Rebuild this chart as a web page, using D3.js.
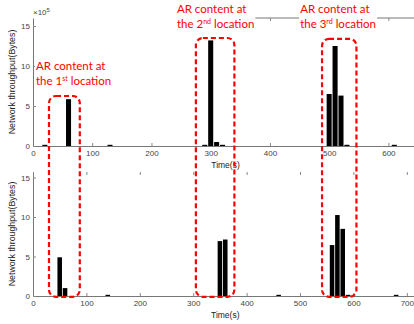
<!DOCTYPE html>
<html>
<head>
<meta charset="utf-8">
<script src="https://cdn.jsdelivr.net/npm/d3@7"></script>
<style>
  body { margin: 0; background: #fff; }
  .tick text { font-family: "Liberation Sans", Arial, sans-serif; font-size: 8px; fill: #444; }
  .tick line { stroke: #888; }
  .domain { stroke: #777; }
</style>
</head>
<body>
<svg id="svg-chart"></svg>
<script>
const width = 414;
const height = 324;

// top run: time (s) and throughput (x10^5 bytes)
const topTime = [20, 60, 130, 290, 300, 310, 320, 500, 510, 520, 530, 610];
const topVal = [0.15, 5.85, 0.15, 0.15, 13.2, 0.5, 0.15, 6.5, 12.5, 6.3, 0.15, 0.15];
// bottom run
const botTime = [50, 60, 140, 350, 360, 460, 560, 570, 580, 590, 680];
const botVal = [4.9, 1.0, 0.15, 6.95, 7.15, 0.15, 6.45, 10.25, 8.5, 0.15, 0.15];

const topXTicks = [0, 100, 200, 300, 400, 500, 600];
const botXTicks = [0, 100, 200, 300, 400, 500, 600, 700];
const yTicks = [0, 5, 10, 15];

// annotation boxes, in top-plot units
const boxStart = [27, 275, 488];
const boxEnd = [79, 340, 546];
const boxTop = [6.25, 13.5, 13.4];
const labelX = [5, 243, 451];
const labelY = [9.5, 16.6, 16.6];
const ordinal = ["1", "2", "3"];
const suffix = ["st", "nd", "rd"];

const svg = d3.select("#svg-chart").attr("width", width).attr("height", height);

const xT = d3.scaleLinear().domain([0, 650]).range([33, 418]);
const yT = d3.scaleLinear().domain([0, 16]).range([146, 18]);
const xB = d3.scaleLinear().domain([0, 720]).range([33, 417.5]);
const yB = d3.scaleLinear().domain([0, 15.7]).range([296, 172]);

function drawPanel(x, y, xticks, times, vals) {
  const g = svg.append("g");
  g.append("g")
    .attr("transform", "translate(0," + y(0) + ")")
    .call(d3.axisBottom(x).tickValues(xticks).tickSizeInner(-3).tickSizeOuter(0).tickPadding(4));
  g.append("g")
    .attr("transform", "translate(" + x(0) + ",0)")
    .call(d3.axisLeft(y).tickValues(yTicks).tickSizeInner(-3).tickSizeOuter(0).tickPadding(3));

  const bw = (x(10) - x(0)) * 0.85;
  g.selectAll("rect.bar")
    .data(times)
    .join("rect")
    .attr("class", "bar")
    .attr("x", function (d) { return x(d) - bw / 2; })
    .attr("width", bw)
    .attr("y", function (d, i) { return y(vals[i]); })
    .attr("height", function (d, i) { return y(0) - y(vals[i]); })
    .attr("fill", "#000");

  g.append("text")
    .attr("x", (x.range()[0] + x.range()[1]) / 2)
    .attr("y", y(0) + 22)
    .attr("text-anchor", "middle")
    .attr("font-family", "Liberation Sans, Arial, sans-serif")
    .attr("font-size", 8.5)
    .attr("fill", "#222")
    .text("Time(s)");

  g.append("text")
    .attr("transform", "translate(15," + (y.range()[0] + y.range()[1]) / 2 + ") rotate(-90)")
    .attr("text-anchor", "middle")
    .attr("font-family", "Liberation Sans, Arial, sans-serif")
    .attr("font-size", 8.8)
    .attr("fill", "#222")
    .text("Network throughput(Bytes)");
  return g;
}

drawPanel(xT, yT, topXTicks, topTime, topVal);
drawPanel(xB, yB, botXTicks, botTime, botVal);

// top border of the top panel (left part hidden behind labels)
svg.append("g")
  .attr("transform", "translate(0," + yT(16) + ")")
  .call(d3.axisTop(xT).tickValues([400, 500, 600]).tickFormat("").tickSizeInner(-3).tickSizeOuter(0))
  .call(function (g) { g.select(".domain").remove(); });
svg.append("line")
  .attr("x1", xT(375)).attr("x2", xT(650))
  .attr("y1", yT(16)).attr("y2", yT(16))
  .attr("stroke", "#777");

// top border of the bottom panel
svg.append("g")
  .attr("transform", "translate(0," + yB(15.7) + ")")
  .call(d3.axisTop(xB).tickValues(botXTicks).tickFormat("").tickSizeInner(-3).tickSizeOuter(0))
  .call(function (g) { g.select(".domain").remove(); });

// x10^5
const ex = svg.append("text")
  .attr("x", xT(0))
  .attr("y", yT(16) - 3)
  .attr("font-family", "Liberation Sans, Arial, sans-serif")
  .attr("font-size", 8)
  .attr("fill", "#444")
  .text("\u00d710");
ex.append("tspan").attr("font-size", 6).attr("dy", -3).text("5");

// red dashed boxes
svg.selectAll("rect.box")
  .data(boxStart)
  .join("rect")
  .attr("class", "box")
  .attr("x", function (d) { return xT(d); })
  .attr("width", function (d, i) { return xT(boxEnd[i]) - xT(d); })
  .attr("y", function (d, i) { return yT(boxTop[i]); })
  .attr("height", function (d, i) { return yB(-0.1) - yT(boxTop[i]); })
  .attr("rx", 7)
  .attr("fill", "none")
  .attr("stroke", "#f00")
  .attr("stroke-width", 2.2)
  .attr("stroke-dasharray", "5,3");

// labels
labelX.forEach(function (lx, i) {
  const g = svg.append("g");
  const t = g.append("text")
    .attr("font-family", "Lato, 'Open Sans', sans-serif")
    .attr("font-size", 11.5)
    .attr("fill", "#f00");
  t.append("tspan").attr("x", xT(lx)).attr("y", yT(labelY[i])).text("AR content at");
  t.append("tspan").attr("x", xT(lx)).attr("y", yT(labelY[i]) + 15).text("the " + ordinal[i]);
  t.append("tspan").attr("font-size", 7).attr("dy", -4).text(suffix[i]);
  t.append("tspan").attr("dy", 4).text(" location");
  const bb = t.node().getBBox();
  g.insert("rect", "text")
    .attr("x", bb.x - 1).attr("y", bb.y)
    .attr("width", bb.width + 2).attr("height", bb.height)
    .attr("fill", "#fff");
});
</script>
</body>
</html>
